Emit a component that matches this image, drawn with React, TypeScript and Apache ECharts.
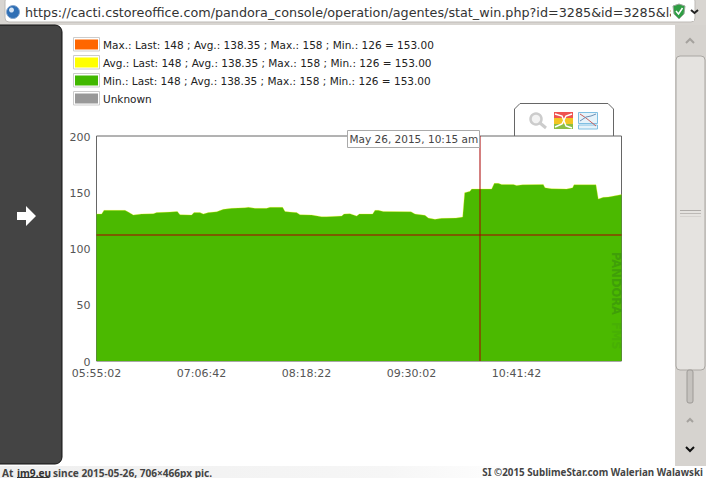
import React, { useEffect, useRef } from "react";
import * as echarts from "echarts";

const urlText = "https://cacti.cstoreoffice.com/pandora_console/operation/agentes/stat_win.php?id=3285&id=3285&lat";
const tickLabels = ["05:55:02", "07:06:42", "08:18:22", "09:30:02", "10:41:42", ""];
const legendNames = [
  "Max.: Last: 148 ; Avg.: 138.35 ; Max.: 158 ; Min.: 126 = 153.00",
  "Avg.: Last: 148 ; Avg.: 138.35 ; Max.: 158 ; Min.: 126 = 153.00",
  "Min.: Last: 148 ; Avg.: 138.35 ; Max.: 158 ; Min.: 126 = 153.00",
  "Unknown",
];
const legendColors = ["#ff6600", "#ffff00", "#41b800", "#999999"];
const seconds = [
  0, 212, 307, 1167, 1303, 1508, 1849, 2327, 2464, 3010, 3310, 3419, 3897, 3992, 4238, 4375, 4580, 4921, 5194, 5535,
  6081, 6218, 6490, 6968, 7105, 7623, 7719, 7924, 8197, 8333, 8811, 9221, 9426, 10040, 10135, 10381, 10654, 10763,
  11309, 11405, 11541, 11746, 12879, 13043, 13452, 13589, 13862, 14135, 14722, 14995, 15077, 15295, 15363, 16182,
  16291, 16455, 16592, 17070, 17206, 17452, 18298, 18366, 18639, 19254, 19499, 19554, 20455, 20550, 20755, 20960, 21500,
];
const values = [
  130.7, 130.7, 133.9, 133.9, 132.4, 129.8, 130.7, 131, 131.9, 132.4, 133, 130.1, 129.8, 131.9, 131.9, 130.7, 131.9,
  132.7, 134.8, 135.7, 136.3, 136.6, 135.7, 135.7, 136.6, 136.6, 133, 132.4, 131.9, 130.1, 129.8, 128.3, 128.3, 128.9,
  130.7, 131, 128.9, 130.7, 130.7, 133.9, 133.9, 133, 132.7, 130.7, 129.5, 127.1, 125.9, 126.8, 127.1, 128, 149.6,
  150.8, 152.9, 152.9, 157.9, 157.9, 157, 157, 156.1, 156.7, 157, 154.1, 153.2, 152.9, 154.1, 156.7, 156.7, 144, 145.5,
  145.8, 147.9,
];
const cursorTime = 15692;
const cursorValue = 112;
const cursorLabel = "May 26, 2015, 10:15 am";
const leftCredit = "At";
const leftLink = "im9.eu";
const leftRest = "since 2015-05-26, 706×466px pic.";
const rightCredit = "SI ©2015 SublimeStar.com Walerian Walawski";
const watermarkA = "PANDORA";
const watermarkB = "FMS";

const FONT = "'DejaVu Sans'";
const FOOT = "'Noto Sans'";
const points = seconds.map((s, i) => [s, values[i]]);

function rect(x: number, y: number, w: number, h: number, fill: any, extra: any = {}, z = 20) {
  const { r, ...style } = extra;
  return { type: "rect", z, silent: true, shape: { x, y, width: w, height: h, r: r || 0 }, style: { fill, ...style } };
}
function line(x1: number, y1: number, x2: number, y2: number, stroke: string, lineWidth = 1, z = 21) {
  return { type: "line", z, silent: true, shape: { x1, y1, x2, y2 }, style: { stroke, lineWidth } };
}
function poly(points: number[][], style: any, z = 21) {
  return { type: style.fill ? "polygon" : "polyline", z, silent: true, shape: { points }, style };
}
function text(x: number, y: number, t: string, style: any = {}, z = 22, rotation = 0) {
  return { type: "text", z, silent: true, x, y, rotation, style: { text: t, x: 0, y: 0, fontFamily: FONT, textVerticalAlign: "middle", ...style } };
}

export default function App() {
  const ref = useRef<HTMLDivElement>(null);
  useEffect(() => {
    const chart = echarts.init(ref.current!, undefined, { renderer: "svg", width: 706, height: 478 });
    const edgeSeries = (name: string, color: string, lineOpacity: number) => ({
      name,
      type: "line",
      data: points,
      showSymbol: false,
      symbol: "none",
      silent: true,
      lineStyle: { color, width: 1, opacity: lineOpacity },
      itemStyle: { color },
    });
    const frames = [37.5, 55.5, 73.5, 91.5].map((y) =>
      rect(73.5, y, 26, 13.5, "#fff", { stroke: "#cccccc", lineWidth: 1 }, 1)
    );
    const footerFill = new echarts.graphic.LinearGradient(0, 0, 1, 0, [
      { offset: 0, color: "#efefef" },
      { offset: 0.55, color: "#f6f6f6" },
      { offset: 0.75, color: "#ffffff" },
      { offset: 1, color: "#ffffff" },
    ]);
    const footText = { fontSize: 10.1, fontWeight: 700, fontFamily: FOOT, fill: "#444444" };
    const chrome: any[] = [
      // address bar
      rect(0, 0, 706, 25, "#d8d5d1"),
      rect(5, -3, 690, 25, "#ffffff", { r: 4, stroke: "#bdbab6", lineWidth: 1 }),
      { type: "circle", z: 21, silent: true, shape: { cx: 13, cy: 12, r: 6.5 }, style: { fill: "#2f6fb5", stroke: "#8aa9cf", lineWidth: 1 } },
      { type: "circle", z: 22, silent: true, shape: { cx: 11.5, cy: 10, r: 2.5 }, style: { fill: "#d6e4f4" } },
      text(25, 12, urlText, { fontSize: 12.75, fill: "#333333" }),
      rect(671, 1, 23, 20, "#ffffff", {}, 23),
      poly([[673, 6], [679, 4], [685, 6], [684, 14], [679, 19], [674, 14]], { fill: "#2f9e44", stroke: "#9aa89a", lineWidth: 1 }, 24),
      poly([[676, 11], [678.5, 14], [682.5, 8]], { stroke: "#ffffff", lineWidth: 1.5, fill: null }, 25),
      poly([[691, 10], [694.5, 13], [698, 10]], { stroke: "#222222", lineWidth: 2, fill: null }, 25),
      // left panel
      rect(-10, 25, 72, 439, "#444444", { r: 7, stroke: "#111111", lineWidth: 1 }),
      poly([[17, 212], [26, 212], [26, 206], [36, 216], [26, 226], [26, 220], [17, 220]], { fill: "#ffffff" }),
      // scrollbar
      rect(675, 25, 31, 441, "#d6d3cf"),
      rect(676, 56, 29, 314, "#e5e3e0", { r: 4, stroke: "#aaa7a3", lineWidth: 1 }),
      rect(687, 370, 6, 33, "#c5c2be", { r: 2, stroke: "#9d9a96", lineWidth: 1 }),
      line(680, 210.5, 701, 210.5, "#aeaba8"),
      line(680, 213.5, 701, 213.5, "#bcb9b6"),
      line(680, 216.5, 701, 216.5, "#d6d3d0"),
      poly([[686, 43], [690, 39], [694, 43]], { stroke: "#a5a29e", lineWidth: 2, fill: null }),
      poly([[687, 422], [690, 419], [693, 422]], { stroke: "#a5a29e", lineWidth: 2, fill: null }),
      poly([[686, 447], [690, 451], [694, 447]], { stroke: "#111111", lineWidth: 2, fill: null }),
      // footer
      rect(0, 466, 706, 12, footerFill),
      text(2, 472.5, leftCredit, footText),
      text(17, 472.5, leftLink, { ...footText, fill: "#333333" }),
      line(17, 477.5, 49.5, 477.5, "#333333"),
      text(53, 472.5, leftRest, footText),
      text(703, 472.5, rightCredit, { ...footText, fontSize: 9.8, textAlign: "right" }),
      // tab above the plot
      poly([[514.5, 136], [514.5, 109], [520, 103.5], [608, 103.5], [613.5, 109], [613.5, 136]], { stroke: "#666666", lineWidth: 1, fill: null }),
      { type: "circle", z: 21, silent: true, shape: { cx: 536, cy: 119, r: 5.5 }, style: { fill: "#f3f3f3", stroke: "#cccccc", lineWidth: 2.5 } },
      line(540, 123, 546, 128, "#cccccc", 3),
      rect(554, 112, 19, 6, "#ef5350"),
      rect(554, 118, 19, 6, "#f2c522"),
      rect(554, 124, 19, 5, "#8bbf45"),
      poly([[555, 114], [562, 116], [566, 126], [572, 128]], { stroke: "#ffffff", lineWidth: 1.5, fill: null }, 22),
      poly([[555, 127], [562, 124], [566, 116], [572, 114]], { stroke: "#ffffff", lineWidth: 1.5, fill: null }, 22),
      rect(578.5, 112.5, 19, 11, "#e6f3fa", { stroke: "#7fbfe2", lineWidth: 1 }),
      rect(578.5, 125, 19, 4, "#e6f3fa", { stroke: "#7fbfe2", lineWidth: 1 }),
      poly([[580, 114], [586, 118], [591, 122], [596, 126]], { stroke: "#c9605c", lineWidth: 1, fill: null }, 22),
      poly([[580, 121], [586, 117], [591, 116], [596, 114]], { stroke: "#6d8fb5", lineWidth: 1, fill: null }, 22),
      // cursor label
      rect(347.5, 130.5, 132, 17, "#ffffff", { stroke: "#aaaaaa", lineWidth: 1 }, 30),
      text(349.5, 139, cursorLabel, { fontSize: 10.5, fill: "#444444" }, 31),
      // watermark
      text(610, 252, watermarkA, { fontSize: 11.5, fontWeight: 700, fill: "#3f9f08", textVerticalAlign: "bottom" }, 15, -Math.PI / 2),
      text(610, 322, watermarkB, { fontSize: 11.5, fontWeight: 700, fill: "#47b004", textVerticalAlign: "bottom" }, 15, -Math.PI / 2),
    ];
    chart.setOption({
      animation: false,
      backgroundColor: "#ffffff",
      textStyle: { fontFamily: FONT },
      legend: {
        show: true,
        orient: "vertical",
        left: 75,
        top: 39,
        itemWidth: 23,
        itemHeight: 10,
        itemGap: 7,
        icon: "rect",
        selectedMode: false,
        data: legendNames,
        textStyle: { fontFamily: FONT, fontSize: 10.5, color: "#222222" },
        padding: 0,
      },
      grid: { left: 96.5, right: 84.5, top: 136, bottom: 117, show: true, borderColor: "#666666", borderWidth: 1, backgroundColor: "#ffffff", z: 1 },
      xAxis: {
        type: "value",
        min: 0,
        max: 21500,
        interval: 4300,
        axisLine: { show: false },
        axisTick: { show: false },
        splitLine: { show: true, lineStyle: { color: "#e8e8e8", width: 1 } },
        axisLabel: {
          fontFamily: FONT,
          fontSize: 11,
          color: "#555555",
          margin: 6.5,
          formatter: (_v: number, i: number) => tickLabels[i] ?? "",
        },
      },
      yAxis: {
        type: "value",
        min: 0,
        max: 200,
        interval: 50,
        axisLine: { show: false },
        axisTick: { show: false },
        splitLine: { show: true, lineStyle: { color: "#e8e8e8", width: 1 } },
        axisLabel: {
          margin: 6,
          formatter: (v: number) => `{t|${v}}`,
          rich: { t: { fontFamily: FONT, fontSize: 11, color: "#555555", padding: [2, 0, 0, 0] } },
        },
      },
      series: [
        edgeSeries(legendNames[0], legendColors[0], 0),
        edgeSeries(legendNames[1], legendColors[1], 0.3),
        {
          ...edgeSeries(legendNames[2], "#4bb900", 0),
          areaStyle: { color: "#4bb900", opacity: 1 },
          itemStyle: { color: legendColors[2] },
          markLine: {
            silent: true,
            symbol: "none",
            label: { show: false },
            lineStyle: { color: "rgba(170,0,0,0.5)", width: 2, type: "solid" },
            data: [{ xAxis: cursorTime }, { yAxis: cursorValue }],
          },
        },
        { name: legendNames[3], type: "line", data: [], itemStyle: { color: legendColors[3] }, symbol: "none" },
      ],
      graphic: { elements: [...frames, ...chrome] },
    });
    return () => chart.dispose();
  }, []);
  return <div ref={ref} style={{ position: "fixed", left: 0, top: 0, width: 706, height: 478 }} />;
}
